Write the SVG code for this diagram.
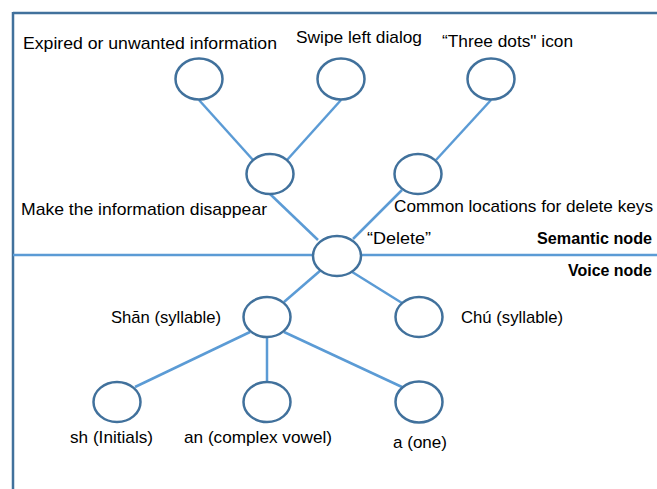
<svg xmlns="http://www.w3.org/2000/svg" width="657" height="489" viewBox="0 0 657 489">
<style>
.frame{stroke:#41719C;stroke-width:2.5;fill:none}
.div{stroke:#5B9BD5;stroke-width:2.5;fill:none}
.edge{stroke:#5B9BD5;stroke-width:2.5;fill:none}
.node{fill:#FFFFFF;stroke:#41719C;stroke-width:2.5}
text{font-family:"Liberation Sans",Arial,sans-serif;font-size:17px;fill:#000000}
.b{font-weight:bold}
</style>
<rect width="657" height="489" fill="#FFFFFF"/>
<g id="frame">
<line class="frame" x1="13" y1="13" x2="657" y2="13"/>
<line class="frame" x1="13" y1="12" x2="13" y2="489"/>
<line class="div" x1="13" y1="255" x2="657" y2="255"/>
<text class="b" x="537" y="244" textLength="115" lengthAdjust="spacingAndGlyphs">Semantic node</text>
<text class="b" x="568" y="276" textLength="84" lengthAdjust="spacingAndGlyphs">Voice node</text>
</g>
<g id="connectors">
<line class="edge" x1="199" y1="100" x2="253" y2="160"/>
<line class="edge" x1="341" y1="100" x2="287" y2="160"/>
<line class="edge" x1="491" y1="100" x2="436" y2="160"/>
<line class="edge" x1="270" y1="194" x2="318" y2="240"/>
<line class="edge" x1="402" y1="190" x2="353" y2="239"/>
<line class="edge" x1="321" y1="270" x2="284" y2="302"/>
<line class="edge" x1="349" y1="270" x2="402" y2="303"/>
<line class="edge" x1="250" y1="332" x2="135" y2="387"/>
<line class="edge" x1="267" y1="337" x2="267" y2="382"/>
<line class="edge" x1="284" y1="332" x2="402" y2="387"/>
</g>
<g id="n_expired">
<ellipse class="node" cx="199" cy="79" rx="23.5" ry="20.5"/>
<text x="23" y="49" textLength="254" lengthAdjust="spacingAndGlyphs">Expired or unwanted information</text>
</g>
<g id="n_swipe">
<ellipse class="node" cx="341" cy="79" rx="23.5" ry="20.5"/>
<text x="296" y="43" textLength="126" lengthAdjust="spacingAndGlyphs">Swipe left dialog</text>
</g>
<g id="n_three">
<ellipse class="node" cx="491" cy="79" rx="23.5" ry="20.5"/>
<text x="442" y="47" textLength="131" lengthAdjust="spacingAndGlyphs">“Three dots" icon</text>
</g>
<g id="n_make">
<ellipse class="node" cx="270" cy="174" rx="23.5" ry="20"/>
<text x="21" y="215" textLength="246" lengthAdjust="spacingAndGlyphs">Make the information disappear</text>
</g>
<g id="n_common">
<ellipse class="node" cx="418" cy="174" rx="23.5" ry="20"/>
<text x="394" y="212" textLength="259" lengthAdjust="spacingAndGlyphs">Common locations for delete keys</text>
</g>
<g id="n_delete">
<ellipse class="node" cx="337" cy="256" rx="24" ry="20"/>
<text x="367" y="244" textLength="64" lengthAdjust="spacingAndGlyphs">“Delete”</text>
</g>
<g id="n_shan">
<ellipse class="node" cx="267" cy="317" rx="23.5" ry="20"/>
<text x="111" y="323" textLength="110" lengthAdjust="spacingAndGlyphs">Shān (syllable)</text>
</g>
<g id="n_chu">
<ellipse class="node" cx="419" cy="317" rx="23.5" ry="20"/>
<text x="461" y="323" textLength="102" lengthAdjust="spacingAndGlyphs">Chú (syllable)</text>
</g>
<g id="n_sh">
<ellipse class="node" cx="117" cy="402" rx="23.5" ry="20"/>
<text x="70" y="443" textLength="83" lengthAdjust="spacingAndGlyphs">sh (Initials)</text>
</g>
<g id="n_an">
<ellipse class="node" cx="267" cy="402" rx="23.5" ry="20"/>
<text x="184" y="443" textLength="148" lengthAdjust="spacingAndGlyphs">an (complex vowel)</text>
</g>
<g id="n_a">
<ellipse class="node" cx="419" cy="402" rx="23.5" ry="20.5"/>
<text x="393" y="448" textLength="54" lengthAdjust="spacingAndGlyphs">a (one)</text>
</g>
</svg>
